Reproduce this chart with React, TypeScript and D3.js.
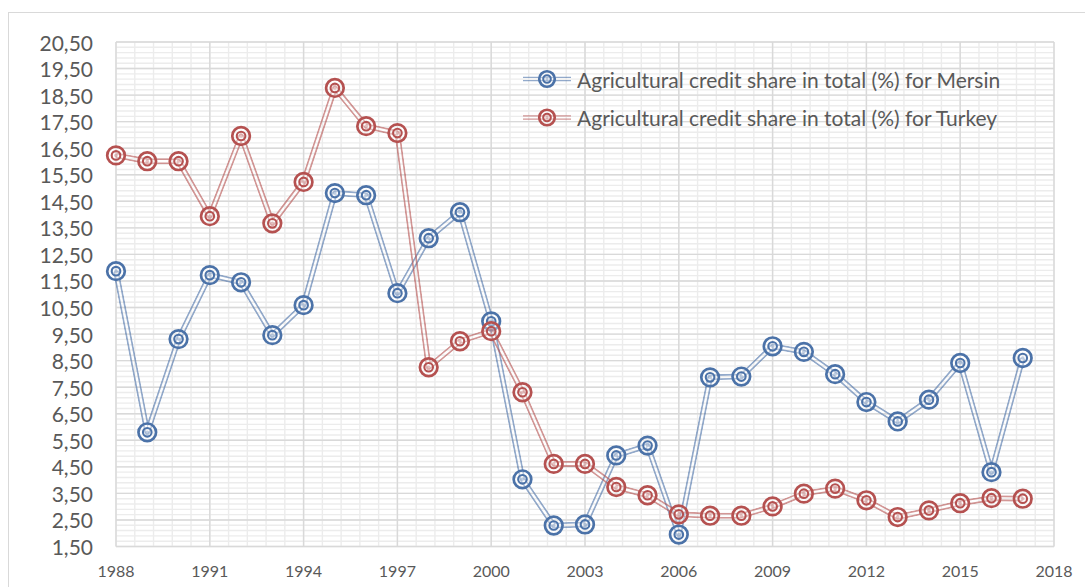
import React from "react";
import * as d3 from "d3";

const years = d3.range(1988, 2018);
const mersin = [11.87, 5.8, 9.31, 11.72, 11.45, 9.46, 10.59, 14.81, 14.73, 11.04, 13.11, 14.09, 9.98, 4.03, 2.29, 2.33, 4.93, 5.3, 1.95, 7.87, 7.9, 9.04, 8.83, 7.99, 6.94, 6.21, 7.03, 8.41, 4.3, 8.6];
const turkey = [16.23, 16.01, 16.01, 13.94, 16.96, 13.67, 15.23, 18.77, 17.33, 17.07, 8.25, 9.23, 9.61, 7.31, 4.61, 4.61, 3.74, 3.43, 2.71, 2.66, 2.66, 3.01, 3.49, 3.68, 3.24, 2.61, 2.86, 3.13, 3.32, 3.3];
const yTicks = d3.range(0, 20).map((i) => 1.5 + i);
const xTicks = d3.range(0, 11).map((i) => 1988 + 3 * i);
const seriesNames = [
  "Agricultural credit share in total (%) for Mersin",
  "Agricultural credit share in total (%) for Turkey",
];
const colors = ["#4b72a8", "#b55150"];

const W = 1085;
const H = 587;
const x = d3.scaleLinear().domain([1988, 2018]).range([116, 1054]);
const y = d3.scaleLinear().domain([1.5, 20.5]).range([546.5, 42]);
const font = "Lato, 'Open Sans', sans-serif";

function Marker({ cx, cy, color, s = 1 }: { cx: number; cy: number; color: string; s?: number }) {
  return (
    <g>
      <circle cx={cx} cy={cy} r={8.8 * s} fill="#fff" fillOpacity={0.35} stroke={color} strokeWidth={2.7} />
      <circle cx={cx} cy={cy} r={4.3 * s} fill="none" stroke={color} strokeWidth={2.1} />
      <circle cx={cx} cy={cy} r={1.8 * s} fill={color} fillOpacity={0.35} />
    </g>
  );
}

export default function App() {
  const minorY = d3.range(0, 19 * 5 + 1).map((i) => 1.5 + i * 0.2);
  const minorX = d3.range(0, 50 + 1).map((i) => 1988 + i * 0.6);
  const line = d3
    .line<number>()
    .x((_, i) => x(years[i]))
    .y((d) => y(d));
  const data = [mersin, turkey];
  return (
    <svg width={W} height={H} style={{ position: "absolute", left: 0, top: 0 }} fontFamily={font}>
      <defs>
        {data.map((s, k) => (
          <mask id={`m${k}`} key={k} maskUnits="userSpaceOnUse" x={0} y={0} width={W} height={H}>
            <path d={line(s) || ""} fill="none" stroke="#fff" strokeWidth={6} strokeLinejoin="round" />
            <path d={line(s) || ""} fill="none" stroke="#000" strokeWidth={2.4} strokeLinejoin="round" />
          </mask>
        ))}
      </defs>
      <rect x={0} y={0} width={W} height={H} fill="#fff" />
      <rect x={8.5} y={12.5} width={W + 10} height={H + 10} fill="none" stroke="#d9d9d9" />
      <g>
        {minorY.map((v, i) => (
          <line key={"my" + i} x1={x(1988)} x2={x(2018)} y1={y(v)} y2={y(v)} stroke="#ececec" strokeWidth={1.4} />
        ))}
        {minorX.map((v, i) => (
          <line key={"mx" + i} x1={x(v)} x2={x(v)} y1={y(1.5)} y2={y(20.5)} stroke="#ececec" strokeWidth={1.4} />
        ))}
        {yTicks.map((v) => (
          <line key={"y" + v} x1={x(1988)} x2={x(2018)} y1={y(v)} y2={y(v)} stroke="#d9d9d9" strokeWidth={1.4} />
        ))}
        {xTicks.map((v) => (
          <line key={"x" + v} x1={x(v)} x2={x(v)} y1={y(1.5)} y2={y(20.5)} stroke="#d9d9d9" strokeWidth={1.4} />
        ))}
      </g>
      <g fill="#595959" fontSize={21}>
        {yTicks.map((v) => (
          <text key={v} x={93} y={y(v)} textAnchor="end" dominantBaseline="central">
            {v.toFixed(2).replace(".", ",")}
          </text>
        ))}
      </g>
      <g fill="#595959" fontSize={16}>
        {xTicks.map((v) => (
          <text key={v} x={x(v)} y={577} textAnchor="middle">
            {v}
          </text>
        ))}
      </g>
      {data.map((s, k) => (
        <g key={k}>
          <path d={line(s) || ""} fill="none" stroke={colors[k]} strokeOpacity={0.6} strokeWidth={6} strokeLinejoin="round" mask={`url(#m${k})`} />
          {s.map((v, i) => (
            <Marker key={i} cx={x(years[i])} cy={y(v)} color={colors[k]} />
          ))}
        </g>
      ))}
      <g>
        {seriesNames.map((name, k) => {
          const ly = k === 0 ? 79 : 117.5;
          return (
            <g key={k}>
              <line x1={523} x2={571} y1={ly - 1.6} y2={ly - 1.6} stroke={colors[k]} strokeOpacity={0.6} strokeWidth={1.3} />
              <line x1={523} x2={571} y1={ly + 1.6} y2={ly + 1.6} stroke={colors[k]} strokeOpacity={0.6} strokeWidth={1.3} />
              <Marker cx={547} cy={ly} color={colors[k]} s={0.88} />
              <text x={577} y={ly} dominantBaseline="central" fill="#595959" fontSize={21}>
                {name}
              </text>
            </g>
          );
        })}
      </g>
    </svg>
  );
}
